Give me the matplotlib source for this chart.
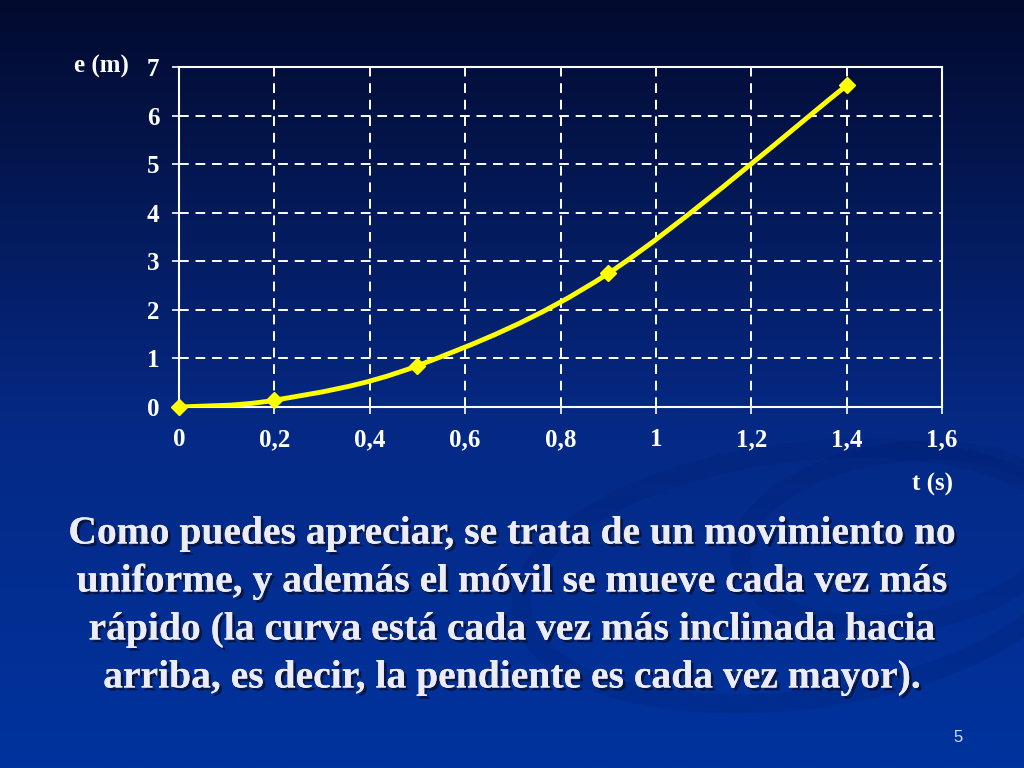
import numpy as np
import matplotlib.pyplot as plt
import matplotlib.patheffects as pe
from matplotlib.path import Path
from matplotlib.patches import PathPatch, Ellipse

# data
t_values = [0.0, 0.2, 0.5, 0.9, 1.4]
e_values = [0.0, 0.14, 0.85, 2.75, 6.62]
x_ticks = [0, 0.2, 0.4, 0.6, 0.8, 1.0, 1.2, 1.4, 1.6]
x_tick_labels = ["0", "0,2", "0,4", "0,6", "0,8", "1", "1,2", "1,4", "1,6"]
y_ticks = [0, 1, 2, 3, 4, 5, 6, 7]
body_lines = [
    "Como puedes apreciar, se trata de un movimiento no",
    "uniforme, y además el móvil se mueve cada vez más",
    "rápido (la curva está cada vez más inclinada hacia",
    "arriba, es decir, la pendiente es cada vez mayor).",
]

SERIF = ["Liberation Serif", "DejaVu Serif"]
TEXT_COLOR = "#ECECF8"
shadow = [pe.withSimplePatchShadow(offset=(2, -2), shadow_rgbFace="#0A1030", alpha=0.8), pe.Normal()]


def smooth_path(xs, ys):
    # Catmull-Rom style smoothing drawn as cubic Bezier segments (like Excel's smoothed line)
    pts = list(zip(xs, ys))
    verts = [pts[0]]
    codes = [Path.MOVETO]
    n = len(pts)
    for i in range(n - 1):
        p0 = pts[i - 1] if i > 0 else pts[i]
        p1 = pts[i]
        p2 = pts[i + 1]
        p3 = pts[i + 2] if i + 2 < n else pts[i + 1]
        c1 = (p1[0] + (p2[0] - p0[0]) / 6, p1[1] + (p2[1] - p0[1]) / 6)
        c2 = (p2[0] - (p3[0] - p1[0]) / 6, p2[1] - (p3[1] - p1[1]) / 6)
        verts += [c1, c2, p2]
        codes += [Path.CURVE4] * 3
    return Path(verts, codes)


fig = plt.figure(figsize=(10.24, 7.68), dpi=100)

# gradient background
bg = fig.add_axes([0, 0, 1, 1])
grad = np.linspace(0, 1, 256).reshape(-1, 1)
top = np.array([0.01, 0.04, 0.18])
mid = np.array([0.02, 0.16, 0.52])
bot = np.array([0.0, 0.2, 0.62])
colors = np.where(grad[..., None] < 0.55,
                  top + (mid - top) * (grad[..., None] / 0.55),
                  mid + (bot - mid) * ((grad[..., None] - 0.55) / 0.45))
bg.imshow(colors, aspect="auto", extent=[0, 1, 0, 1], origin="upper")
# faint swirl of the slide template
for (cx, cy, w, h, ang) in [(0.78, 0.25, 0.55, 0.32, 12), (0.88, 0.30, 0.32, 0.22, 15)]:
    bg.add_patch(Ellipse((cx, cy), w, h, angle=ang, facecolor="none", edgecolor="#001a66",
                         linewidth=14, alpha=0.18))
bg.set_xlim(0, 1)
bg.set_ylim(0, 1)
bg.axis("off")

# chart
ax = fig.add_axes([179 / 1024, 1 - 407 / 768, 763 / 1024, 340 / 768])
ax.patch.set_alpha(0)
ax.set_xlim(0, 1.6)
ax.set_ylim(0, 7)
ax.set_xticks(x_ticks)
ax.set_xticklabels(x_tick_labels)
ax.set_yticks(y_ticks)
for spine in ax.spines.values():
    spine.set_color("white")
    spine.set_linewidth(1.5)
ax.tick_params(colors="white", length=5, width=1.2, labelsize=18)
ax.tick_params(axis="x", pad=10)
ax.tick_params(axis="y", pad=9)
for lab in ax.get_xticklabels() + ax.get_yticklabels():
    lab.set_family(SERIF)
    lab.set_fontweight("bold")
    lab.set_color("white")
ax.grid(True, color="white", linestyle=(0, (5, 3.5)), linewidth=1.4)

curve = PathPatch(smooth_path(t_values, e_values), facecolor="none", edgecolor="#FFFF00", linewidth=3.5,
                  capstyle="round", zorder=3)
ax.add_patch(curve)
ax.plot(t_values, e_values, linestyle="none", marker="D", markersize=8, color="#FFFF00", zorder=4,
        clip_on=False)

fig.text(101 / 1024, 1 - 66 / 768, "e (m)", color="white", fontsize=18, fontweight="bold",
         family=SERIF, ha="center", va="center")
fig.text(932 / 1024, 1 - 484 / 768, "t (s)", color="white", fontsize=18, fontweight="bold",
         family=SERIF, ha="center", va="center")

for i, line in enumerate(body_lines):
    fig.text(0.5, 1 - (534 + 48 * i) / 768, line, color=TEXT_COLOR, fontsize=28.5, fontweight="bold",
             family=SERIF, ha="center", va="center", path_effects=shadow)

fig.text(958 / 1024, 1 - 738 / 768, "5", color="#D8DCF0", fontsize=12, family="Liberation Sans",
         ha="center", va="center")

fig.savefig("out.png", dpi=100)
